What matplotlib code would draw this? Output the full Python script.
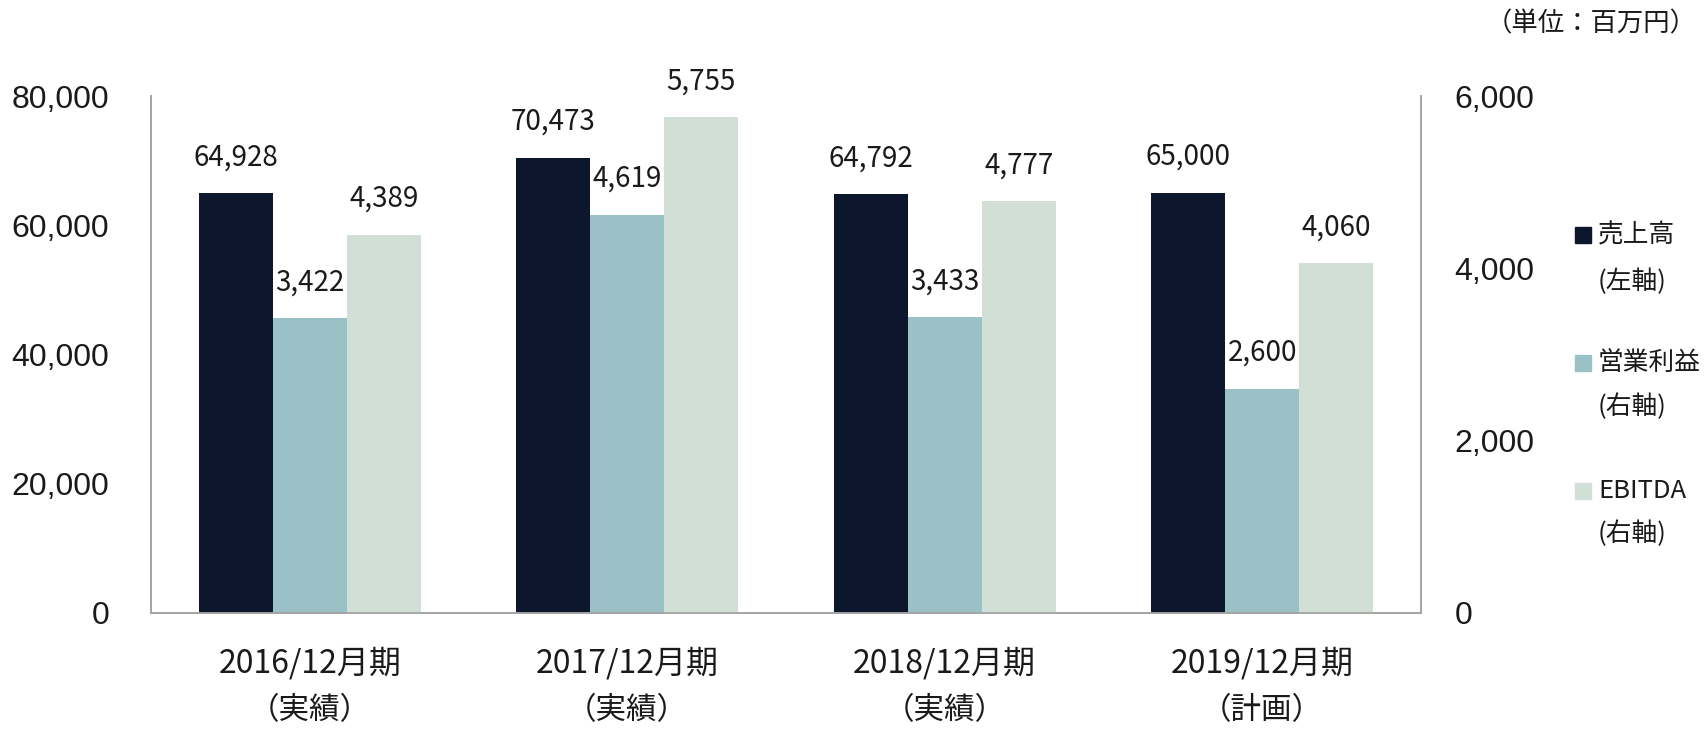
import matplotlib
matplotlib.use("Agg")
import matplotlib.pyplot as plt
from matplotlib.patches import Rectangle
from matplotlib.ticker import FuncFormatter, FixedLocator
import numpy as np

# ---- data ----
categories_line1 = ["2016/12月期", "2017/12月期", "2018/12月期", "2019/12月期"]
categories_line2 = ["（実績）", "（実績）", "（実績）", "（計画）"]
sales = [64928, 70473, 64792, 65000]          # 売上高 (left axis)
op_profit = [3422, 4619, 3433, 2600]          # 営業利益 (right axis)
ebitda = [4389, 5755, 4777, 4060]             # EBITDA (right axis)
left_ticks = [0, 20000, 40000, 60000, 80000]
right_ticks = [0, 2000, 4000, 6000]
legend_labels = [("売上高", "(左軸)"), ("営業利益", "(右軸)"), ("EBITDA", "(右軸)")]
unit_label = "（単位：百万円）"

# ---- style ----
C_DARK = "#0c172e"
C_TEAL = "#9ac1c5"
C_LIGHT = "#d1dfd6"
SPINE = "#a3a3a3"
CJK = ["Noto Sans CJK JP", "DejaVu Sans"]
TICKFONT = "Liberation Sans"

W, H = 1706, 730
fig = plt.figure(figsize=(W / 100, H / 100), dpi=100)
ax_l, ax_r, ax_t, ax_b = 151, 1421, 96, 613
ax = fig.add_axes([ax_l / W, 1 - ax_b / H, (ax_r - ax_l) / W, (ax_b - ax_t) / H])
ax2 = ax.twinx()

x = np.arange(len(sales))
bw = 0.233

ax.bar(x - bw, sales, width=bw, color=C_DARK, zorder=2)
ax2.bar(x, op_profit, width=bw, color=C_TEAL, zorder=2)
ax2.bar(x + bw, ebitda, width=bw, color=C_LIGHT, zorder=2)

ax.set_xlim(-0.5, len(sales) - 0.5)
ax.set_ylim(0, 80000)
ax2.set_ylim(0, 6000)

fmt = FuncFormatter(lambda v, p: f"{int(v):,}")
ax.yaxis.set_major_locator(FixedLocator(left_ticks))
ax2.yaxis.set_major_locator(FixedLocator(right_ticks))
ax.yaxis.set_major_formatter(fmt)
ax2.yaxis.set_major_formatter(fmt)

for a in (ax, ax2):
    a.spines["top"].set_visible(False)
    for s in ("left", "right", "bottom"):
        a.spines[s].set_color(SPINE)
        a.spines[s].set_linewidth(1.2)
    a.tick_params(length=0)
ax.tick_params(axis="y", pad=30, labelsize=23)
ax2.tick_params(axis="y", pad=24, labelsize=23)
for lab in ax.get_yticklabels() + ax2.get_yticklabels():
    lab.set_fontfamily(TICKFONT)
    lab.set_color("#1a1a1a")
ax.set_xticks([])

# category labels (two lines)
xt = ax.get_xaxis_transform()
axh = ax_b - ax_t
for i in range(len(x)):
    ax.text(x[i], -(663 - ax_b) / axh, categories_line1[i],
            transform=xt, ha="center", va="center", fontsize=23, family=CJK, color="#1a1a1a")
    ax.text(x[i], -(711 - ax_b) / axh, categories_line2[i],
            transform=xt, ha="center", va="center", fontsize=22, family=CJK, color="#1a1a1a")

# data labels
def lab(a, xs, vals):
    for xi, v in zip(xs, vals):
        a.annotate(f"{v:,}", (xi, v), xytext=(0, 36), textcoords="offset pixels",
                   ha="center", va="center", fontsize=20, family=CJK, color="#1a1a1a")

lab(ax, x - bw, sales)
lab(ax2, x, op_profit)
lab(ax2, x + bw, ebitda)

# legend (manual)
colors = [C_DARK, C_TEAL, C_LIGHT]
first_y = [235.5, 363, 491]
second_y = [282, 407, 534]
for c, (l1, l2), y1, y2 in zip(colors, legend_labels, first_y, second_y):
    fig.patches.append(Rectangle((1575 / W, 1 - (y1 + 8) / H), 16 / W, 16 / H,
                                 transform=fig.transFigure, color=c))
    fig.text(1598 / W, 1 - y1 / H, l1, ha="left", va="center", fontsize=18.5, family=CJK, color="#1a1a1a")
    fig.text(1598 / W, 1 - y2 / H, l2, ha="left", va="center", fontsize=18.5, family=CJK, color="#1a1a1a")

fig.text(1697 / W, 1 - 24 / H, unit_label, ha="right", va="center", fontsize=19, family=CJK, color="#1a1a1a")

fig.savefig("out.png", dpi=100)
